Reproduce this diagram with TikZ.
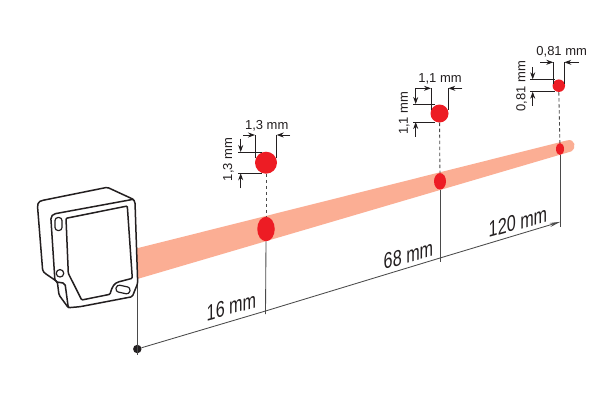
\documentclass[tikz,border=0pt]{standalone}
\usepackage{fontspec}
\setmainfont{Liberation Sans}
\usetikzlibrary{shapes.geometric,arrows.meta}
\definecolor{beamc}{HTML}{FBAE94}
\definecolor{spotc}{HTML}{ED1C24}
\definecolor{inkc}{HTML}{231F20}
\definecolor{linec}{HTML}{4A4A4A}
\tikzset{
 body/.style={draw=inkc,line width=1.5pt,line join=round,line cap=round},
 spot/.style={circle,fill=spotc,inner sep=0pt,minimum size=#1},
 bspot/.style args={#1/#2}{ellipse,fill=spotc,inner sep=0pt,minimum width=#1,minimum height=#2},
 leader/.style={draw=linec,line width=.85pt},
 dashlead/.style={draw=linec,line width=.85pt,dash pattern=on 3.5pt off 2.5pt},
 ext/.style={draw=inkc,line width=.9pt},
 dimarrow/.style={draw=inkc,line width=.8pt,-{Stealth[length=7pt,width=5pt]}},
 smalltext/.style={font=\fontsize{13}{15}\selectfont,text=inkc,inner sep=0pt},
 bigtext/.style={font=\fontsize{22.5}{24}\selectfont,text=inkc,inner sep=0pt,cm={.72,.2,0,1,(#1)}},
}
\begin{document}
\begin{tikzpicture}[x=1pt,y=-1pt]
\useasboundingbox[fill=white] (0,0) rectangle (600,400);
% beam
\fill[beamc] (137,248.3) -- (567.5,140.3) .. controls (575,138.5) and (577,148) .. (571,151.5) -- (137.3,279) -- cycle;
% spots on the beam
\node[bspot=17.5pt/24.5pt] (b1) at (266,229) {};
\node[bspot=12pt/16.5pt] (b2) at (440,181.3) {};
\node[bspot=8pt/12pt] (b3) at (560,149) {};
% upper spots
\node[spot=22pt] (s1) at (266,162.7) {};
\node[spot=18pt] (s2) at (439.5,113.5) {};
\node[spot=12.5pt] (s3) at (558.8,85.7) {};
% dashed leaders
\draw[dashlead] (s1) -- (b1);
\draw[dashlead] (s2) -- (b2);
\draw[dashlead] (s3.south) -- (b3);
% datum and base line
\coordinate (sensorfoot) at (137.3,284);
\coordinate (dotend) at (137.3,355);
\node[circle,fill=inkc,inner sep=0pt,minimum size=8.5pt] (dot) at (137.3,349) {};
\coordinate (t1) at (265.5,311);
\coordinate (t2) at (440,258);
\coordinate (t3) at (560.5,221.8);
\draw[leader] (sensorfoot) -- (dotend);
\draw[leader] (b1.south) -- (265.5,314);
\draw[leader] (b2.south) -- (440,262);
\draw[leader] (560.5,155) -- (560.5,227);
\draw[leader] (dot) -- (t1) -- (t2);
\draw[draw=linec,line width=.85pt,-{Stealth[length=11pt,width=4pt]}] (t2) -- (t3);
% sensor
\draw[body,fill=white,rounded corners=1.5pt] (37.5,206) -- (38.5,202) -- (42,200.5) -- (107.3,187.3) -- (133.3,199.3) -- (135,202) -- (137.7,283.3) -- (132.3,296.7) -- (80,306.7) -- (68.3,307.7) -- (59,295) -- (57.3,281.7) -- (45,273.3) -- (42.7,271) -- cycle;
\draw[body,rounded corners=2pt] (133.3,199.3) -- (53.5,214) -- (50.8,217) -- (55,281.7) -- (65,283.3) -- (68.3,307.7);
\draw[body,rounded corners=1pt] (66,218.3) -- (127.3,206) -- (132.3,278.3) -- (120,281.5) .. controls (114,283) and (112,287) .. (110,294.3) -- (81.7,300) -- (68.3,273.3) -- cycle;
\draw[body,line width=1.2pt,rounded corners=3pt] (55,217.5) rectangle (62,230.5);
\node[circle,draw=inkc,line width=1.2pt,inner sep=0pt,minimum size=7.5pt] (hole) at (60,273.3) {};
\node[draw=inkc,line width=1.2pt,rounded corners=3pt,inner sep=0pt,minimum width=14pt,minimum height=7pt,rotate=-12] (slot) at (123,289.5) {};
% distance labels
\node[bigtext={231.5,306.5}] (l16) at (0,0) {16 mm};
\node[bigtext={408.5,255}] (l68) at (0,0) {68 mm};
\node[bigtext={518,222}] (l120) at (0,0) {120 mm};
% dims, spot 1
\draw[ext] (255,135) -- (255,158);
\draw[ext] (276.7,135) -- (276.7,158);
\draw[dimarrow] (243.3,135) -- (255,135);
\draw[dimarrow] (290,135) -- (276.7,135);
\draw[ext] (238.3,152) -- (262,152);
\draw[ext] (238.3,173.3) -- (262,173.3);
\draw[dimarrow] (240.7,138.5) -- (240.7,152);
\draw[dimarrow] (240.7,188.3) -- (240.7,173.3);
\node[smalltext] (w1) at (266.7,126) {1,3 mm};
\node[smalltext,rotate=90] (h1) at (228.5,159.5) {1,3 mm};
% dims, spot 2
\draw[ext] (431,88.3) -- (431,110);
\draw[ext] (448.3,88.3) -- (448.3,110);
\draw[dimarrow] (415.7,88.3) -- (431,88.3);
\draw[dimarrow] (462.3,88.3) -- (448.3,88.3);
\draw[ext] (413.3,104) -- (435,104);
\draw[ext] (413.3,122) -- (435,122);
\draw[dimarrow] (415.7,88.3) -- (415.7,104);
\draw[dimarrow] (415.7,136.7) -- (415.7,122);
\node[smalltext] (w2) at (440,79) {1,1 mm};
\node[smalltext,rotate=90] (h2) at (404.3,113.3) {1,1 mm};
% dims, spot 3
\draw[ext] (553.3,62.3) -- (553.3,84);
\draw[ext] (564.3,62.3) -- (564.3,84);
\draw[dimarrow] (540,62.3) -- (553.3,62.3);
\draw[dimarrow] (579,62.3) -- (564.3,62.3);
\draw[ext] (530,79.3) -- (555,79.3);
\draw[ext] (530,91.7) -- (555,91.7);
\draw[dimarrow] (532.7,67.3) -- (532.7,79.3);
\draw[dimarrow] (532.7,105.7) -- (532.7,91.7);
\node[smalltext] (w3) at (561.7,51.7) {0,81 mm};
\node[smalltext,rotate=90] (h3) at (521.7,86) {0,81 mm};
\end{tikzpicture}
\end{document}
